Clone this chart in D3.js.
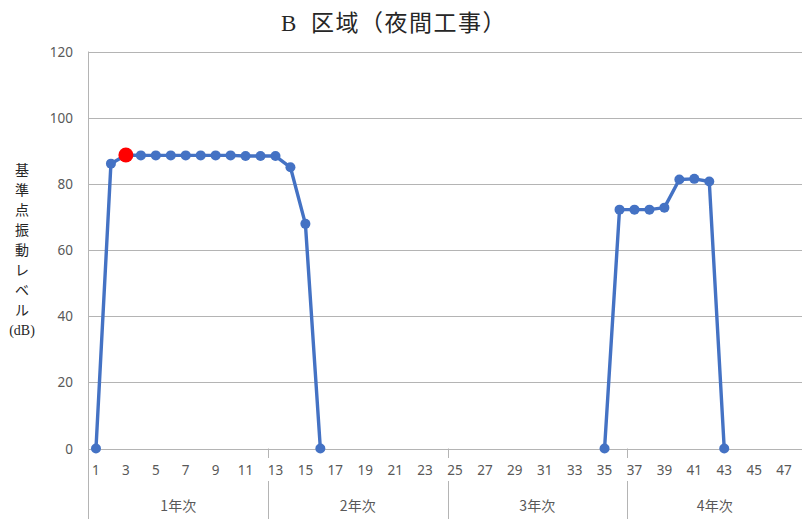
<!DOCTYPE html>
<html>
<head>
<meta charset="utf-8">
<script src="https://cdn.jsdelivr.net/npm/d3@7"></script>
<style>
  html, body { margin: 0; padding: 0; background: #fff; }
  svg { display: block; }
</style>
</head>
<body>
<svg id="chart" width="802" height="519"></svg>
<script>
// Months 1..48, grouped into four construction years
const months = d3.range(1, 49);
const yearGroups = ["1年次", "2年次", "3年次", "4年次"];
// Reference-point vibration level (dB); null = no night work that month
const levels = [
  0, 86.1, 88.7, 88.6, 88.6, 88.6, 88.6, 88.6, 88.6, 88.6, 88.4, 88.4,
  88.4, 85.0, 67.9, 0, null, null, null, null, null, null, null, null,
  null, null, null, null, null, null, null, null, null, null, 0, 72.2,
  72.2, 72.2, 72.8, 81.3, 81.5, 80.7, 0, null, null, null, null, null
];
// Month whose value is highlighted as the maximum
const highlightMonth = 3;
const yTicks = [0, 20, 40, 60, 80, 100, 120];
const title = "B\u2002区域（夜間工事）";
const yTitleChars = ["基", "準", "点", "振", "動", "レ", "ベ", "ル", "(dB)"];

const svg = d3.select("#chart");
const plotLeft = 88.5, plotRight = 806.5, plotTop = 51.5, plotBottom = 448.5;

const x = d3.scaleBand().domain(months).range([plotLeft, plotRight]).padding(0);
const y = d3.scaleLinear().domain([0, 120]).range([plotBottom, plotTop]);

const gridColor = "#b4b4b4";
const textColor = "#595959";
const blue = "#4472C4";

// Horizontal gridlines
svg.append("g")
  .selectAll("line")
  .data(yTicks)
  .join("line")
  .attr("x1", plotLeft).attr("x2", plotRight)
  .attr("y1", d => Math.round(y(d)) + 0.5)
  .attr("y2", d => Math.round(y(d)) + 0.5)
  .attr("stroke", gridColor).attr("stroke-width", 1);

// Y axis line
svg.append("line")
  .attr("x1", plotLeft).attr("x2", plotLeft)
  .attr("y1", plotTop).attr("y2", 519)
  .attr("stroke", gridColor).attr("stroke-width", 1);

// Y tick labels
svg.append("g")
  .selectAll("text")
  .data(yTicks)
  .join("text")
  .attr("x", 73)
  .attr("y", d => y(d) + 5)
  .attr("text-anchor", "end")
  .attr("font-family", "'Noto Sans', 'Open Sans', sans-serif")
  .attr("font-size", 13.5)
  .attr("fill", textColor)
  .text(d => d);

// X month labels (every other month)
svg.append("g")
  .selectAll("text")
  .data(months.filter(m => m % 2 === 1))
  .join("text")
  .attr("x", d => x(d) + x.bandwidth() / 2)
  .attr("y", 475)
  .attr("text-anchor", "middle")
  .attr("font-family", "'Noto Sans', 'Open Sans', sans-serif")
  .attr("font-size", 13.5)
  .attr("fill", textColor)
  .text(d => d);

// Year group separators and labels
const groupSize = 12;
yearGroups.forEach((g, i) => {
  const x0 = x(months[i * groupSize]);
  const x1 = i < yearGroups.length - 1 ? x(months[(i + 1) * groupSize]) : plotRight;
  if (i > 0) {
    svg.append("line")
      .attr("x1", Math.round(x0) + 0.5).attr("x2", Math.round(x0) + 0.5)
      .attr("y1", plotBottom).attr("y2", 458)
      .attr("stroke", gridColor);
    svg.append("line")
      .attr("x1", Math.round(x0) + 0.5).attr("x2", Math.round(x0) + 0.5)
      .attr("y1", 481).attr("y2", 519)
      .attr("stroke", gridColor);
  }
  svg.append("text")
    .attr("x", (x0 + x1) / 2 - (i === 3 ? 2 : 0))
    .attr("y", 511)
    .attr("text-anchor", "middle")
    .attr("font-family", "'Noto Sans CJK JP', 'Noto Sans', sans-serif")
    .attr("font-size", 14)
    .attr("fill", textColor)
    .text(g);
});

// Title
svg.append("text")
  .attr("x", 394)
  .attr("y", 31)
  .attr("text-anchor", "middle")
  .attr("font-family", "'Liberation Serif', 'Noto Sans CJK JP', serif")
  .attr("font-size", 23)
  .attr("letter-spacing", 1.5)
  .attr("fill", "#262626")
  .text(title);

// Vertical y-axis title
svg.append("g")
  .selectAll("text")
  .data(yTitleChars)
  .join("text")
  .attr("x", 22)
  .attr("y", (d, i) => 175 + i * 20)
  .attr("text-anchor", "middle")
  .attr("font-family", "'Liberation Serif', 'Noto Sans CJK JP', serif")
  .attr("font-size", 14)
  .attr("fill", "#262626")
  .text(d => d);

// Series line
const series = months.map((m, i) => ({ m, v: levels[i] }));
const cx = d => x(d.m) + x.bandwidth() / 2;
const line = d3.line()
  .defined(d => d.v !== null)
  .x(cx)
  .y(d => y(d.v));

svg.append("path")
  .datum(series)
  .attr("d", line)
  .attr("fill", "none")
  .attr("stroke", blue)
  .attr("stroke-width", 3.4)
  .attr("stroke-linejoin", "round");

// Markers
svg.append("g")
  .selectAll("circle")
  .data(series.filter(d => d.v !== null))
  .join("circle")
  .attr("cx", cx)
  .attr("cy", d => y(d.v))
  .attr("r", d => d.m === highlightMonth ? 7.5 : 5)
  .attr("fill", d => d.m === highlightMonth ? "#ff0000" : blue);
</script>
</body>
</html>
